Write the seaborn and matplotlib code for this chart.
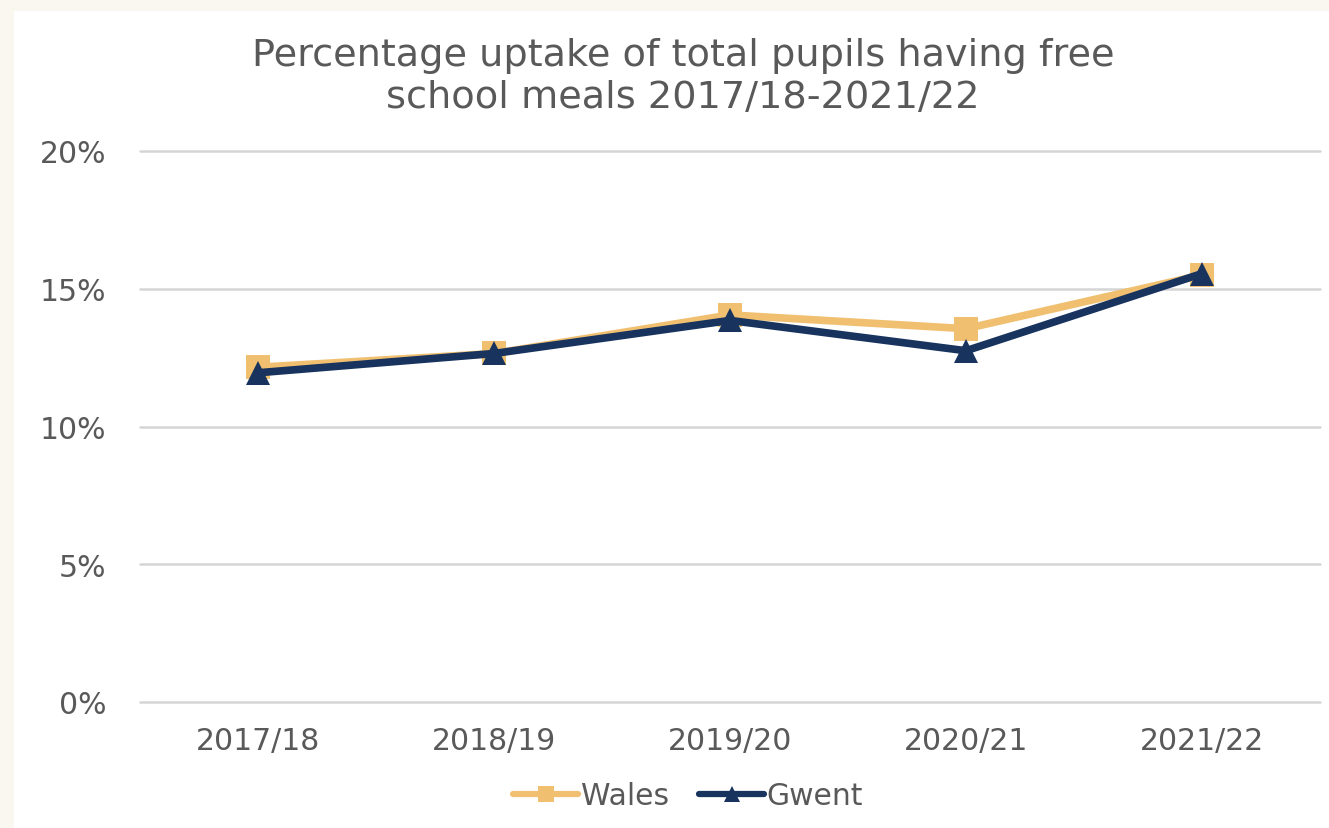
import numpy as np
import pandas as pd
import matplotlib
matplotlib.use('Agg')
import matplotlib.pyplot as plt
import seaborn as sns
from matplotlib.patches import Rectangle
from matplotlib.ticker import FuncFormatter

# data
years = ['2017/18', '2018/19', '2019/20', '2020/21', '2021/22']
wales = [12.15, 12.65, 14.05, 13.55, 15.5]
gwent = [11.95, 12.65, 13.85, 12.75, 15.55]
series_names = ['Wales', 'Gwent']

df = pd.DataFrame({
    'Year': years * 2,
    'Uptake': wales + gwent,
    'Area': [series_names[0]] * len(years) + [series_names[1]] * len(years),
})

text_col = '#595959'
palette = {'Wales': '#F0C070', 'Gwent': '#17335E'}

sns.set_style('white')
plt.rcParams['font.family'] = ['DejaVu Sans']

fig = plt.figure(figsize=(13.29, 8.29), dpi=100, facecolor='#F9F7F0')
# white chart panel, cream border on the top and left
fig.patches.append(Rectangle((14 / 1329, 0), 1, 1 - 12 / 829, transform=fig.transFigure,
                             facecolor='white', edgecolor='none', zorder=-1))

ax = fig.add_axes([140 / 1329, 1 - 703 / 829, 1180 / 1329, 551 / 829])
ax.set_facecolor('none')
ax.set_zorder(2)

sns.lineplot(data=df, x='Year', y='Uptake', hue='Area', style='Area', palette=palette,
             markers={'Wales': 's', 'Gwent': '^'}, dashes=False, linewidth=5.5,
             markersize=17, markeredgewidth=0, sort=False, ax=ax, legend=False)

ax.set_ylim(0, 20)
ax.set_xlim(-0.5, len(years) - 0.5)
ax.set_yticks([0, 5, 10, 15, 20])
ax.yaxis.set_major_formatter(FuncFormatter(lambda v, _: f"{v:.0f}%"))
ax.grid(axis='y', color='#D5D5D5', linewidth=1.8)
ax.set_axisbelow(True)
for gl in ax.get_ygridlines():
    gl.set_clip_on(False)
for s in ax.spines.values():
    s.set_visible(False)
ax.tick_params(axis='both', length=0, labelsize=21.5, colors=text_col)
ax.tick_params(axis='y', pad=24)
ax.tick_params(axis='x', pad=17)
ax.set_xlabel('')
ax.set_ylabel('')

fig.text(683 / 1329, 1 - 77 / 829, 'Percentage uptake of total pupils having free\nschool meals 2017/18-2021/22',
         ha='center', va='center', fontsize=27.5, color=text_col, linespacing=1.2)

handles = [plt.Line2D([], [], color=palette[n], marker=m, linewidth=4.5, markersize=12, markeredgewidth=0)
           for n, m in zip(series_names, ['s', '^'])]
fig.legend(handles, series_names, loc='center', bbox_to_anchor=(688 / 1329, 1 - 797 / 829), ncol=2,
           frameon=False, fontsize=21.5, handlelength=2.2, handletextpad=0.08, columnspacing=1.0,
           labelcolor=text_col)

fig.savefig('out.png', dpi=100, facecolor=fig.get_facecolor())
